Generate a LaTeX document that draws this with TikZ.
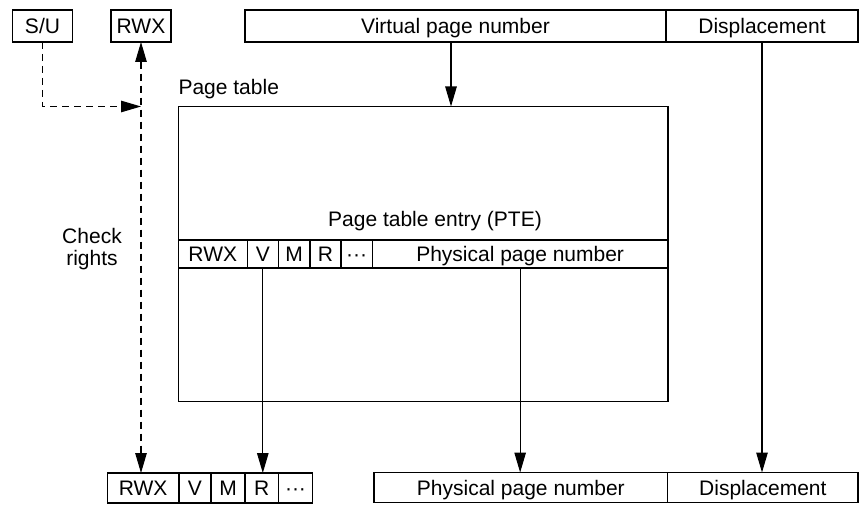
\documentclass[tikz,border=0pt]{standalone}
\usepackage{fontspec}
\setmainfont{Liberation Sans}
\usetikzlibrary{arrows.meta,positioning}
\begin{document}
\begin{tikzpicture}[x=1pt,y=-1pt,line width=1.1pt,>={Triangle[length=20pt,width=11.5pt]},
	cell/.style={draw,inner sep=0pt,outer sep=0pt,minimum height=#1,text height=15pt,text depth=0pt},
	cell/.default=30pt,
	dasharr/.style={->,dash pattern=on 7pt off 5pt}]
	\fontsize{21}{22}\selectfont
	\useasboundingbox (0,0) rectangle (860,521);
	\node[cell=32pt,minimum width=60.4pt,anchor=north west]	(su)	at (12.3,10)	{S/U};
	\node[cell=32pt,minimum width=60pt,anchor=north west]	(rwxtop)	at (111,10)	{RWX};
	\node[cell=32pt,minimum width=421pt,anchor=north west]	(vpn)	at (245,10)	{Virtual page number};
	\node[cell=32pt,minimum width=192pt,right=0pt of vpn]	(disp)			{Displacement};
	\node[anchor=base west,inner sep=0pt]	(ptlabel)	at (178,95)	{Page table};
	\node[draw,inner sep=0pt,outer sep=0pt,minimum width=489.7pt,minimum height=295pt,anchor=north west] (pt) at (178.3,106.5) {};
	\node[anchor=base,inner sep=0pt]	(ptelabel)	at (435,226.7)	{Page table entry (PTE)};
	\node[cell=28pt,minimum width=69pt,anchor=north west]	(prwx)	at (178.3,240)	{RWX};
	\node[cell=28pt,minimum width=31pt,right=0pt of prwx]	(pv)		{V};
	\node[cell=28pt,minimum width=31.7pt,right=0pt of pv]	(pm)		{M};
	\node[cell=28pt,minimum width=31pt,right=0pt of pm]	(pr)		{R};
	\node[cell=28pt,minimum width=31.3pt,right=0pt of pr]	(pdots)		{\textperiodcentered\textperiodcentered\textperiodcentered};
	\node[cell=28pt,minimum width=295.7pt,right=0pt of pdots]	(pppn)	{Physical page number};
	\node[cell,minimum width=71.7pt,anchor=north west]	(brwx)	at (107.3,473)	{RWX};
	\node[cell,minimum width=32pt,right=0pt of brwx]	(bv)		{V};
	\node[cell,minimum width=34pt,right=0pt of bv]		(bm)		{M};
	\node[cell,minimum width=33.3pt,right=0pt of bm]	(br)		{R};
	\node[cell,minimum width=34.4pt,right=0pt of br]	(bdots)		{\textperiodcentered\textperiodcentered\textperiodcentered};
	\node[cell,minimum width=293.7pt,anchor=north west]	(bppn)	at (374,472.5)	{Physical page number};
	\node[cell,minimum width=190.3pt,right=0pt of bppn]	(bdisp)		{Displacement};
	\node[align=center,inner sep=0pt]	(check)	at (92,249)	{Check\\rights};
	\coordinate (join) at (rwxtop.south |- pt.north);
	\draw[->] ([xshift=-4.5pt]vpn.south) -- ([xshift=-4.5pt]vpn.south |- pt.north);
	\draw[->] (disp.south) -- (disp.south |- bdisp.north);
	\draw[->] (pv.south) -- (pv.south |- br.north);
	\draw[->] (pppn.south) -- (pppn.south |- bppn.north);
	\draw[dasharr] (su.south) |- (join);
	\draw[dasharr,<->] (rwxtop.south) -- (rwxtop.south |- brwx.north);
\end{tikzpicture}
\end{document}
